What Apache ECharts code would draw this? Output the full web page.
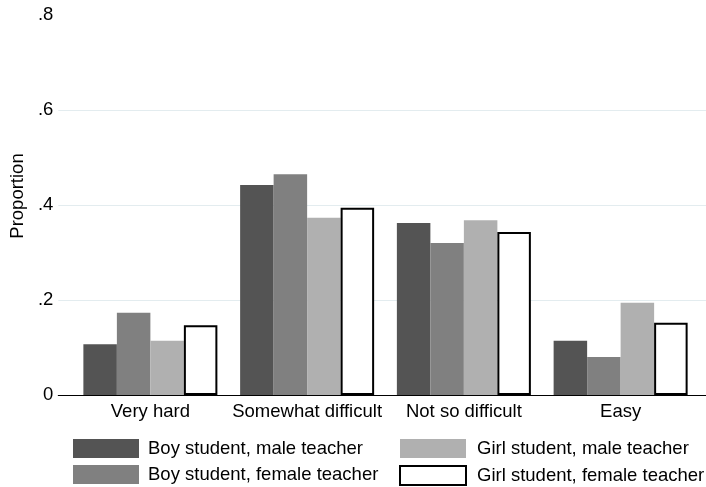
<!DOCTYPE html>
<html>
<head>
<meta charset="utf-8">
<script src="https://cdn.jsdelivr.net/npm/echarts@6/dist/echarts.min.js"></script>
<style>
html,body{margin:0;padding:0;background:#fff;}
#chart{width:706px;height:487px;}
</style>
</head>
<body>
<div id="chart"></div>
<script>
var categories = ['Very hard', 'Somewhat difficult', 'Not so difficult', 'Easy'];
var seriesNames = ['Boy student, male teacher', 'Boy student, female teacher', 'Girl student, male teacher', 'Girl student, female teacher'];
var boyMale = [0.107, 0.442, 0.362, 0.114];
var boyFemale = [0.173, 0.465, 0.320, 0.080];
var girlMale = [0.114, 0.373, 0.368, 0.194];
var girlFemale = [0.147, 0.394, 0.343, 0.152];
var yTicks = [0, 0.2, 0.4, 0.6, 0.8];

var FONT = 'Liberation Sans, Arial, Helvetica, sans-serif';
var FS = 18.5;
var chart = echarts.init(document.getElementById('chart'), null, {renderer: 'canvas'});

function fmtTick(v) {
  if (Math.abs(v) < 1e-9) return '0';
  return String(Math.round(v * 10) / 10).replace(/^0\./, '.');
}

var styles = [
  {color: '#545454'},
  {color: '#808080'},
  {color: '#b0b0b0'},
  {color: '#ffffff', borderColor: '#000000', borderWidth: 2}
];
var datas = [boyMale, boyFemale, girlMale, girlFemale];

var series = seriesNames.map(function (n, i) {
  return {
    name: n,
    type: 'bar',
    xAxisIndex: 1,
    yAxisIndex: 1,
    data: datas[i],
    barWidth: 33.5,
    barGap: '0%',
    itemStyle: styles[i],
    emphasis: {disabled: true},
    animation: false
  };
});

var legendText = {color: '#000', fontSize: FS, fontFamily: FONT, lineHeight: 19};

var option = {
  animation: false,
  backgroundColor: '#ffffff',
  textStyle: {fontFamily: FONT},
  grid: [
    {left: 58, right: 0, top: 15, bottom: 92},
    {left: 72, right: 7, top: 15, bottom: 92}
  ],
  xAxis: [
    {
      gridIndex: 0, type: 'value', min: 0, max: 1,
      axisLine: {show: true, onZero: false, lineStyle: {color: '#000', width: 1.2}},
      axisTick: {show: false}, axisLabel: {show: false}, splitLine: {show: false}
    },
    {
      gridIndex: 1, type: 'category', data: categories,
      axisLine: {show: false}, axisTick: {show: false},
      axisLabel: {show: true, color: '#000', fontSize: FS, fontFamily: FONT, margin: 7, interval: 0}
    }
  ],
  yAxis: [
    {
      gridIndex: 0, type: 'value', min: 0, max: 0.8, interval: 0.2,
      name: 'Proportion', nameLocation: 'middle', nameGap: 29,
      nameTextStyle: {color: '#000', fontSize: FS, fontFamily: FONT, padding: [0, 0, 0, 18]},
      axisLine: {show: false}, axisTick: {show: false},
      axisLabel: {color: '#000', fontSize: FS, fontFamily: FONT, margin: 5, formatter: fmtTick},
      splitLine: {show: true, showMinLine: false, showMaxLine: false, lineStyle: {color: '#e3ecef', width: 1.2}}
    },
    {
      gridIndex: 1, type: 'value', min: 0, max: 0.8, interval: 0.2,
      show: false, splitLine: {show: false}
    }
  ],
  legend: [
    {
      data: [seriesNames[0], seriesNames[1]],
      orient: 'vertical', left: 73, top: 439, height: 48, padding: 0, itemGap: 7,
      itemWidth: 66, itemHeight: 19, icon: 'rect', selectedMode: false,
      textStyle: Object.assign({padding: [0, 0, 0, 4]}, legendText)
    },
    {
      data: [seriesNames[2], seriesNames[3]],
      orient: 'vertical', left: 399, top: 439, height: 48, padding: 0, itemGap: 7,
      itemWidth: 66, itemHeight: 19, icon: 'rect', selectedMode: false,
      textStyle: Object.assign({padding: [0, 0, 0, 6]}, legendText)
    }
  ],
  series: series
};
chart.setOption(option);
</script>
</body>
</html>
